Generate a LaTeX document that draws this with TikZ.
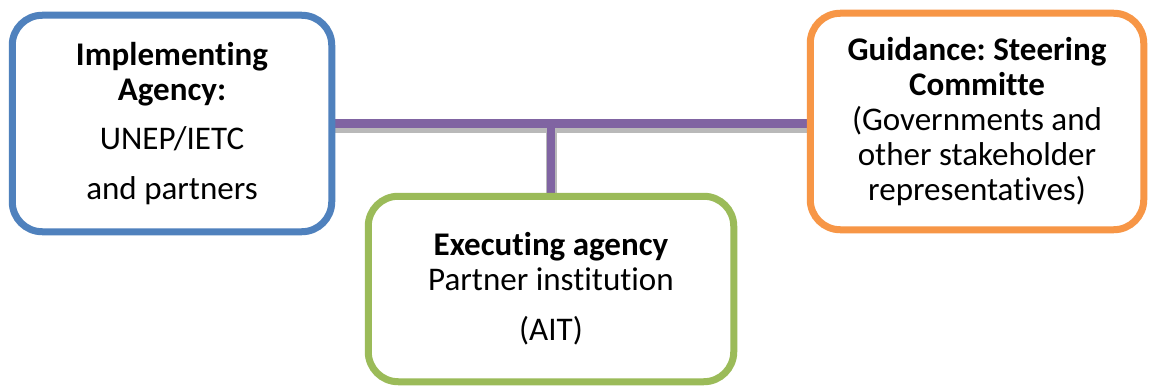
\documentclass[tikz,border=0pt]{standalone}
\usepackage{fontspec}
\setmainfont{Carlito}[Ligatures={NoCommon, NoRare}]
\definecolor{implblue}{HTML}{4F81BD}
\definecolor{guideorange}{HTML}{F79646}
\definecolor{execgreen}{HTML}{9BBB59}
\definecolor{linkpurple}{HTML}{8064A2}
\frenchspacing

\begin{document}
\begin{tikzpicture}[mybox/.style = {draw=#1, line width=0.14cm, rounded corners=0.6cm,
                                      fill=white, align=center,
                                      font=\fontsize{18.8}{19.9}\selectfont},
                      mylink/.style = {draw=linkpurple, line width=0.16cm,
                                       preaction={draw=gray!55, line width=0.22cm,
                                                  transform canvas={yshift=-0.08cm}}}
                     ]

    \useasboundingbox[fill=white] (0,0) rectangle (22.98,7.76);

    \coordinate (implpos) at (3.44, 5.29);
    \coordinate (guidepos) at (19.54, 5.33);
    \coordinate (execpos) at (11.02, 1.98);

    % the connectors first, boxes drawn on top
    \path (implpos) ++(3.2,0) coordinate (implright);
    \path (guidepos) ++(-3.34,0) coordinate (guideleft);
    \coordinate (junction) at (execpos |- implright);
    \path (execpos) ++(0,1.86) coordinate (exectop);

    \draw[mylink] (implright) -- (implright -| guideleft);
    \draw[mylink] (junction) -- (exectop);

    \node[mybox=implblue, minimum width=6.39cm, minimum height=4.33cm] (impl) at (implpos)
        {\textbf{Implementing}\\ \textbf{Agency:}\\[8.5pt] UNEP/IETC\\[8.5pt] and partners};

    \node[mybox=guideorange, minimum width=6.67cm, minimum height=4.33cm] (guide) at (guidepos)
        {\textbf{Guidance: Steering}\\ \textbf{Committe}\\ (Governments and\\ other stakeholder\\ representatives)};

    \node[mybox=execgreen, minimum width=7.31cm, minimum height=3.71cm] (exec) at (execpos)
        {\textbf{Executing agency}\\ Partner institution\\[8.5pt] (AIT)};

   \end{tikzpicture}
\end{document}
